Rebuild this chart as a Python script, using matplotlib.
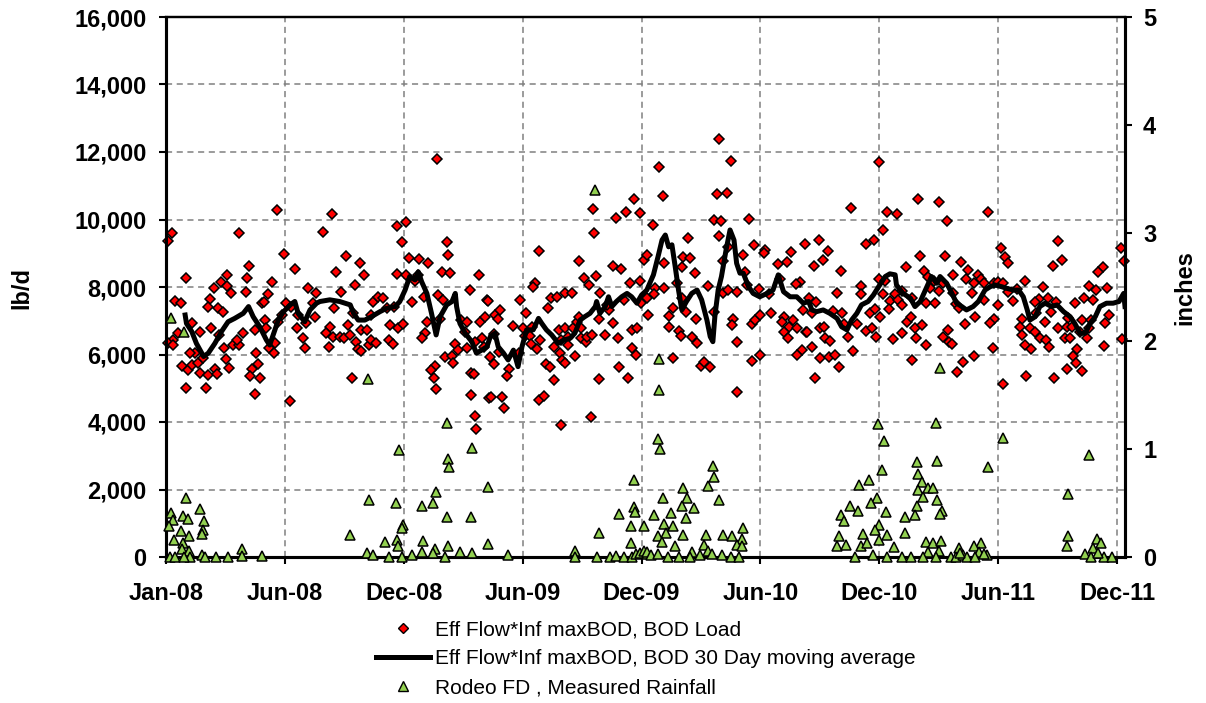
import numpy as np
import matplotlib
matplotlib.use("Agg")
import matplotlib.pyplot as plt
import matplotlib.dates as mdates
from matplotlib.ticker import FixedLocator, FuncFormatter
from matplotlib.lines import Line2D

# ---------------- data ----------------
START = np.datetime64("2008-01-01")   # day 0 of the x axis
AXIS_END_DAY = 1452                   # right end of the axis
TICK_STEP_DAYS = 180                  # date-axis major unit

# Eff Flow*Inf maxBOD, BOD Load : (day since 1 Jan 2008, lb/d)
BOD_LOAD = [
    (3,9370),(9,9590),(111,9610),(168,10280),(179,8980),(195,8530),(30,8260),(126,8620),(93,8360),(83,8160),
    (123,8280),(72,7960),(93,8030),(98,7830),(121,7860),(161,8140),(154,7780),(14,7600),(23,7520),(67,7640),
    (64,7420),(79,7370),(86,7270),(145,7520),(148,7570),(182,7520),(189,7420),(215,7960),(227,7830),(223,7520),
    (226,7120),(200,7170),(212,6920),(175,7170),(170,6970),(40,6920),(51,6680),(68,6780),(18,6630),(11,6430),
    (3,6350),(10,6280),(81,6580),(116,6630),(101,6280),(110,6280),(108,6430),(88,6200),(134,6730),(150,7020),
    (151,6780),(165,6350),(156,6180),(163,6040),(137,6040),(198,6780),(207,6480),(210,6200),(44,6040),(36,6040),
    (24,5660),(34,5540),(39,5690),(48,5760),(56,5890),(51,5460),(63,5390),(74,5560),(77,5420),(91,5860),
    (95,5590),(140,5710),(130,5560),(127,5370),(143,5290),(31,5020),(61,5020),(135,4820),(187,4630),
    (237,9620),(252,10150),(257,8440),(272,8920),(293,8700),(300,8360),(286,8060),(265,7860),(255,7390),(283,7220),
    (311,7170),(314,7570),(321,7710),(329,7670),(334,7370),(345,7420),(339,6870),(352,6780),(359,6900),(372,7570),
    (248,6820),(242,6630),(253,6510),(263,6530),(270,6480),(275,6870),(278,6580),(247,6210),(287,6380),(290,6150),
    (295,6110),(296,6730),(304,6730),(307,6280),(310,6430),(318,6350),(337,6430),(344,6310),(281,5310),(349,9810),
    (363,9940),(358,9340),(350,8380),(368,8850),(383,8820),(397,8700),(364,8360),(377,8190),(381,8360),(411,11790),
    (425,9340),(427,8950),(418,8440),(430,8410),(412,7760),(420,7620),(391,7710),(395,6970),(392,6630),(387,6480),
    (415,7040),(407,5670),(401,5540),(406,5310),(409,4970),(422,5920),(433,5970),(434,5760),(437,6310),(442,6130),
    (447,7020),(452,6680),(455,6970),(455,6180),(460,7910),(474,8360),(475,6970),(483,7100),(478,6480),(468,6380),
    (482,6230),(486,7620),(462,5440),(467,5410),(462,4800),(468,4180),(470,3790),(489,4720),
    (488,7590),(498,7170),(506,7320),(502,7040),(496,6600),(504,6080),(490,5940),(497,5710),(526,6850),(520,5560),
    (517,5360),(492,4750),(508,4750),(512,4410),(536,7620),(545,7220),(540,6780),(544,6550),(551,6550),(554,6820),
    (535,6040),(553,6310),(561,6150),(566,6430),(564,9070),(559,8110),(556,8010),(579,7390),(583,7670),(592,7710),
    (604,7810),(614,7830),(587,6230),(576,5710),(581,5640),(587,5250),(597,6040),(599,5840),(595,6730),(604,6780),
    (609,6530),(608,6280),(604,5740),(598,6430),(565,4650),(572,4770),(598,3910),(620,5960),(616,6780),(622,6970),
    (625,7120),(629,6780),(628,6480),(636,6380),(638,6530),(645,6580),(626,8770),(633,8280),(641,8060),(651,8330),
    (657,7830),(648,9590),(647,10300),(655,5270),(643,4160),(655,7040),(664,6580),(670,7320),(667,7470),(677,6940),
    (684,6480),(686,5640),(700,5290),(677,8630),(689,8530),(682,10040),(696,10230),(709,10610),(717,10200),(694,7620),
    (703,8110),(718,8180),(723,8800),(728,8950),(705,6730),(713,6780),(705,6180),(712,5990),(719,7540),(728,7670),
    (730,7170),
    (837,12380),(747,11570),(752,10700),(855,11740),(835,10760),(850,10780),(830,9990),(841,9970),(883,10010),(738,9840),
    (837,9510),(790,9460),(851,9190),(891,9250),(907,9100),(905,9000),(873,8950),(754,8720),(783,8900),(793,8850),
    (782,8600),(801,8410),(844,8780),(877,8430),(967,9270),(947,9050),(940,8750),(927,8680),(930,8230),(960,8160),
    (954,8080),(740,7960),(739,7790),(754,7960),(774,8110),(781,7670),(821,8040),(844,7830),(851,7910),(864,7860),
    (879,8060),(898,7930),(913,7790),(762,7140),(768,7370),(788,7250),(803,7050),(761,6810),(776,6710),(779,6550),
    (796,6510),(804,6330),(830,7270),(859,7050),(857,6870),(864,6380),(887,6900),(892,7020),(899,7170),(916,7240),
    (936,7120),(932,6970),(950,7020),(944,6820),(955,6780),(935,6660),(942,6480),(964,7320),(969,6680),(963,6130),
    (956,5990),(767,5890),(810,5660),(815,5790),(823,5620),(887,5810),(899,5990),(865,4900),
    (1079,11710),(1138,10610),(1171,10530),(1037,10350),(1092,10230),(1107,10150),(1182,9960),(1085,9690),(1060,9270),(1072,9390),
    (988,9390),(1002,9080),(994,8800),(981,8620),(1022,8470),(1142,8930),(1180,8930),(1203,8750),(1121,8580),(1148,8470),
    (1192,8360),(1215,8500),(1154,8310),(1163,8180),(1176,8130),(1080,8230),(1088,8180),(1052,8030),(1016,7810),(1053,7780),
    (1086,7780),(1114,7890),(1104,7780),(1156,7960),(1171,7890),(1191,7830),(974,7680),(984,7570),(1096,7590),(1109,7620),
    (1115,7470),(1129,7670),(1151,7540),(1164,7520),(1196,7500),(1201,7370),(978,7240),(1010,7300),(1024,7220),(1066,7220),
    (1074,7340),(1081,7120),(1094,7340),(1026,6900),(1046,6900),(1060,6710),(1069,6780),(1122,6970),(1128,7100),(1134,6780),
    (1144,6870),(1209,6900),(990,6780),(996,6820),(970,6660),(1033,6510),(1075,6510),(1100,6450),(1115,6630),(1135,6480),
    (1151,6280),(1184,6730),(1177,6530),(1185,6380),(1190,6310),(998,6480),(1005,6410),(978,6230),(990,5890),(1004,5940),
    (1013,5990),(1019,5620),(1040,6110),(1130,5840),(1206,5790),(1198,5470),(983,5310),
    (1245,10230),(1350,9370),(1265,9150),(1271,8900),(1275,8720),(1357,8800),(1343,8620),(1446,9150),(1450,8770),(1418,8600),
    (1411,8430),(1230,8360),(1234,8230),(1212,8230),(1301,8180),(1328,7990),(1397,8030),(1424,7960),(1408,7910),(1223,8110),
    (1239,8110),(1253,8130),(1259,8160),(1268,8110),(1288,7930),(1275,7860),(1220,7830),(1239,7620),(1282,7600),(1322,7640),
    (1336,7670),(1348,7570),(1376,7540),(1390,7670),(1404,7620),(1260,7470),(1317,7240),(1340,7270),(1316,7570),(1225,7120),
    (1254,7040),(1248,6920),(1296,7040),(1365,7090),(1387,7020),(1401,7020),(1421,6920),(1428,7170),(1293,6810),(1308,6780),
    (1316,6680),(1331,6970),(1351,6780),(1364,6810),(1371,6820),(1384,6680),(1398,6780),(1296,6580),(1301,6280),(1310,6150),
    (1323,6480),(1333,6430),(1337,6230),(1361,6480),(1368,6480),(1394,6480),(1420,6250),(1448,6450),(1380,6150),(1373,5960),
    (1378,5760),(1387,5520),(1364,5560),(1345,5290),(1302,5360),(1267,5130),(1252,6180),(1223,5960),
]

# Eff Flow*Inf maxBOD, BOD 30 Day moving average : (day, lb/d)
BOD_30DAY_AVG = [
    (29,7170),(31,6920),(39,6680),(46,6330),(57,5940),(64,6040),(74,6330),(84,6680),(94,6970),(104,7070),
    (117,7220),(125,7420),(132,7120),(142,6820),(152,6430),(157,6280),(165,6730),(170,7020),(178,7270),(188,7470),
    (195,7570),(200,7220),(210,6970),(218,7320),(228,7520),(233,7570),(248,7620),(263,7570),(279,7470),(284,7220),
    (291,7020),(301,7020),(311,7120),(324,7270),(334,7370),(347,7420),(354,7570),(362,7910),(369,8310),(377,8210),
    (382,8450),(387,8160),(395,7810),(402,7220),(409,6580),(415,7120),(425,7470),(433,7570),(438,7810),(440,7420),
    (445,6920),(453,6630),(463,6380),(470,6040),(478,6130),(486,6230),(491,6530),(498,6630),(503,6230),(511,6040),
    (518,5840),(526,6130),(533,5640),(539,6230),(546,6730),(556,6730),(564,7070),(569,6920),(576,6730),(584,6580),
    (594,6330),(602,6430),(612,6480),(619,6630),(627,7020),(634,7120),(642,7220),(650,7420),(652,7570),(657,7220),
    (665,7420),(670,7710),(675,7420),(682,7570),(690,7710),(698,7810),(705,7710),(713,7520),(720,7760),(728,7910),
    (738,8360),(745,8900),(751,9390),(756,9540),(761,9190),(766,9250),(771,8600),(776,7910),(781,7320),(788,7570),
    (796,7810),(804,7910),(811,7620),(819,7020),(824,6530),(828,6380),(831,7120),(836,7910),(841,8310),(848,9100),
    (854,9690),(860,9390),(864,8700),(869,8410),(874,8410),(882,8010),(889,7810),(899,7710),(910,7810),(919,7910),
    (927,8360),(935,7860),(945,7710),(955,7710),(965,7520),(973,7570),(978,7320),(985,7270),(995,7320),(1005,7220),
    (1016,7070),(1023,6820),(1031,6730),(1038,7020),(1046,7220),(1053,7470),(1063,7570),(1071,7760),(1079,8010),(1089,8310),
    (1096,8390),(1104,8360),(1106,8060),(1116,7810),(1127,7670),(1134,7420),(1142,7570),(1152,8010),(1159,8310),(1167,8110),
    (1172,8310),(1182,8110),(1190,7810),(1197,7520),(1205,7420),(1212,7320),(1222,7420),(1230,7570),(1240,7910),(1248,8010),
    (1255,8060),(1265,8010),(1273,7960),(1283,7910),(1291,7910),(1298,7710),(1304,7320),(1308,7020),(1316,7120),(1323,7420),
    (1331,7520),(1341,7420),(1349,7470),(1359,7270),(1369,7120),(1376,6920),(1384,6630),(1392,6630),(1399,6920),(1407,7120),
    (1414,7420),(1424,7520),(1434,7520),(1443,7570),(1450,7810),(1452,7420),
]

# Rodeo FD, Measured Rainfall : (day, inches)
RAINFALL = [
    (7,2.21),(28,2.08),(30,0.55),(8,0.41),(10,0.34),(5,0.29),(25,0.38),(33,0.35),(51,0.44),(57,0.33),
    (56,0.25),(54,0.21),(23,0.24),(35,0.19),(12,0.16),(25,0.13),(24,0.07),(35,0.06),(6,0.0),(13,0.0),
    (37,0.0),(54,0.02),(59,0.0),(75,0.0),(94,0.0),(115,0.07),(115,0.01),(146,0.01),(28,0.0),
    (306,1.65),(425,1.24),(353,0.99),(427,0.91),(429,0.83),(463,1.01),(488,0.65),(409,0.60),(308,0.53),(348,0.50),
    (387,0.47),(405,0.50),(425,0.37),(462,0.37),(359,0.30),(357,0.27),(279,0.20),(331,0.14),(350,0.16),(352,0.10),
    (389,0.15),(387,0.05),(407,0.07),(427,0.10),(445,0.05),(463,0.04),(488,0.12),(304,0.04),(314,0.02),(338,0.0),
    (358,0.0),(372,0.02),(405,0.04),(423,0.0),
    (650,3.40),(709,0.71),(686,0.40),(709,0.46),(710,0.42),(704,0.29),(723,0.29),(655,0.22),(704,0.13),(518,0.02),
    (619,0.06),(620,0.0),(652,0.0),(672,0.0),(682,0.01),(694,0.0),(706,0.0),(712,0.03),(717,0.04),(723,0.06),(728,0.03),
    (747,1.83),(747,1.55),(745,1.09),(748,1.00),(828,0.84),(830,0.74),(821,0.66),(837,0.53),(752,0.55),(783,0.64),
    (789,0.55),(782,0.47),(799,0.45),(788,0.36),(765,0.41),(739,0.39),(754,0.31),(767,0.29),(757,0.22),(745,0.19),
    (783,0.20),(818,0.20),(844,0.20),(857,0.19),(874,0.27),(872,0.17),(864,0.11),(872,0.10),(751,0.14),(771,0.10),
    (796,0.05),(814,0.11),(821,0.06),(729,0.05),(735,0.02),(745,0.03),(760,0.0),(776,0.0),(794,0.0),(808,0.02),
    (826,0.03),(842,0.02),(855,0.0),(867,0.0),
    (1172,1.75),(1078,1.23),(1166,1.24),(1087,1.07),(1137,0.88),(1167,0.89),(1139,0.77),(1084,0.81),(1049,0.67),(1064,0.71),
    (1144,0.69),(1138,0.62),(1154,0.64),(1162,0.64),(1146,0.56),(1076,0.55),(1167,0.53),(1067,0.50),(1036,0.47),(1048,0.43),
    (1090,0.42),(1137,0.47),(1175,0.43),(1172,0.40),(1022,0.39),(1027,0.33),(1134,0.39),(1119,0.37),(1119,0.22),(1080,0.30),
    (1073,0.25),(1056,0.21),(1092,0.20),(1019,0.19),(1016,0.10),(1030,0.11),(1052,0.10),(1061,0.13),(1080,0.16),(1103,0.09),
    (1151,0.14),(1162,0.13),(1174,0.15),(1170,0.06),(1153,0.05),(1201,0.08),(1043,0.0),(1071,0.02),(1092,0.0),(1115,0.0),
    (1128,0.0),(1146,0.0),(1166,0.0),(1188,0.0),(1196,0.0),(1206,0.02),(1213,0.0),
    (1267,1.10),(1397,0.94),(1244,0.83),(1365,0.58),(1366,0.19),(1364,0.10),(1409,0.17),(1416,0.13),(1404,0.08),(1391,0.03),
    (1400,0.0),(1420,0.0),(1432,0.0),(1411,0.04),(1234,0.13),(1223,0.10),(1231,0.05),(1243,0.02),(1225,0.0),(1202,0.04),
    (1238,0.03),
]

LEGEND_LABELS = [
    "Eff Flow*Inf maxBOD, BOD Load",
    "Eff Flow*Inf maxBOD, BOD 30 Day moving average",
    "Rodeo FD , Measured Rainfall",
]
LEFT_LABEL = "lb/d"
RIGHT_LABEL = "inches"
LEFT_TICKS = [0, 2000, 4000, 6000, 8000, 10000, 12000, 14000, 16000]
RIGHT_TICKS = [0, 1, 2, 3, 4, 5]

# ---------------- helpers ----------------
def to_dates(days):
    return START + np.asarray(days, dtype=int).astype("timedelta64[D]")

bod_day, bod_lb = zip(*BOD_LOAD)
avg_day, avg_lb = zip(*BOD_30DAY_AVG)
rain_day, rain_in = zip(*RAINFALL)

plt.rcParams["font.family"] = ["Liberation Sans", "DejaVu Sans"]
plt.rcParams["font.weight"] = "bold"

fig = plt.figure(figsize=(12.06, 7.03), dpi=100)
W, H = 1206, 703
L, R, T, B = 166, 1125, 17, 557
ax = fig.add_axes([L / W, 1 - B / H, (R - L) / W, (B - T) / H])
ax2 = ax.twinx()

RED = "#FF0000"
GREEN = "#92D050"

ax.plot(to_dates(bod_day), bod_lb, linestyle="none", marker="D", markersize=5.6,
        markerfacecolor=RED, markeredgecolor="black", markeredgewidth=1.1,
        clip_on=False, zorder=3)
ax.plot(to_dates(avg_day), avg_lb, color="black", linewidth=3.6, zorder=4,
        solid_joinstyle="round")
ax2.plot(to_dates(rain_day), rain_in, linestyle="none", marker="^", markersize=7,
         markerfacecolor=GREEN, markeredgecolor="black", markeredgewidth=1.1,
         clip_on=False, zorder=3)

# axes limits / ticks
ax.set_xlim(to_dates([0])[0], to_dates([AXIS_END_DAY])[0])
xt = to_dates(np.arange(0, AXIS_END_DAY + 1, TICK_STEP_DAYS))
ax.xaxis.set_major_locator(FixedLocator(mdates.date2num(xt)))
ax.xaxis.set_major_formatter(mdates.DateFormatter("%b-%y"))
ax.set_ylim(0, 16000)
ax.yaxis.set_major_locator(FixedLocator(LEFT_TICKS))
ax.yaxis.set_major_formatter(FuncFormatter(lambda v, p: f"{v:,.0f}"))
ax2.set_ylim(0, 5)
ax2.yaxis.set_major_locator(FixedLocator(RIGHT_TICKS))

ax.grid(True, color="#808080", linestyle=(0, (4, 3)), linewidth=1.1)
ax.set_axisbelow(True)

for a in (ax, ax2):
    a.tick_params(direction="out", length=5, width=1.5, labelsize=17, pad=9)
    for s in ("left", "right", "bottom"):
        a.spines[s].set_linewidth(2.2)
    a.spines["top"].set_linewidth(1.6)
ax.tick_params(axis="x", pad=13)
ax2.tick_params(axis="y", pad=8)

fig.text(22 / W, 1 - 288 / H, LEFT_LABEL, rotation=90, ha="center", va="center",
         fontsize=17, fontweight="bold")
fig.text(1185 / W, 1 - 288 / H, RIGHT_LABEL, rotation=90, ha="center", va="center",
         fontsize=17, fontweight="bold")

handles = [
    Line2D([], [], linestyle="none", marker="D", markersize=5.2, markerfacecolor=RED,
           markeredgecolor="black", markeredgewidth=1.0),
    Line2D([], [], color="black", linewidth=3.6),
    Line2D([], [], linestyle="none", marker="^", markersize=6.5, markerfacecolor=GREEN,
           markeredgecolor="black", markeredgewidth=1.0),
]
leg = fig.legend(handles, LEGEND_LABELS, loc="upper left",
                 bbox_to_anchor=(376 / W, 1 - 620 / H), frameon=False,
                 prop={"family": "Liberation Sans", "weight": "normal", "size": 15},
                 handlelength=2.6, handletextpad=0.25, labelspacing=0.48,
                 borderpad=0, borderaxespad=0)

fig.savefig("out.png", dpi=100)
